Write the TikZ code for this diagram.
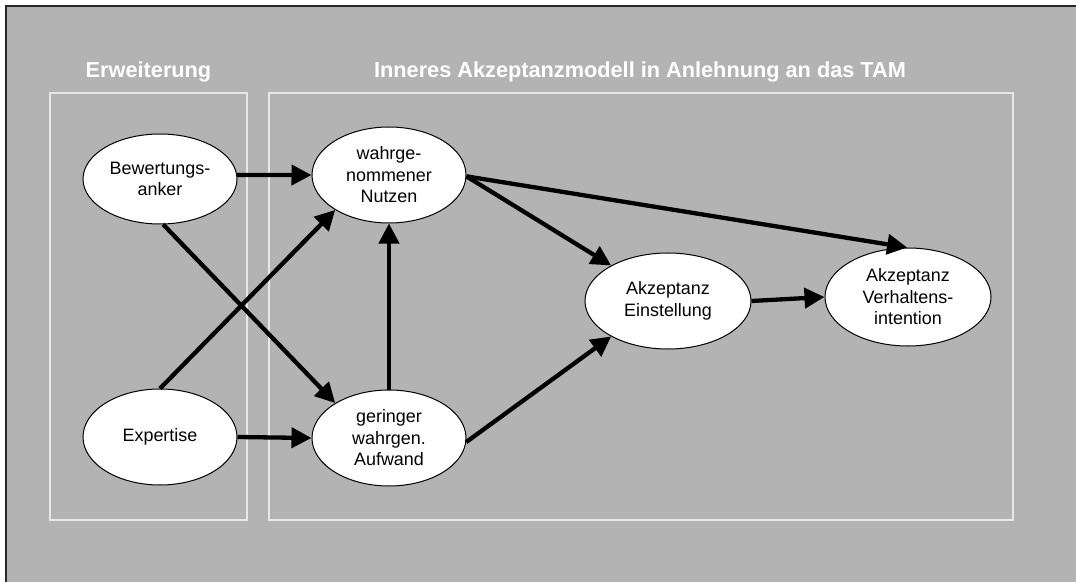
\documentclass[tikz,border=0pt]{standalone}
\usepackage{fontspec}
\setmainfont{Liberation Sans}
\usetikzlibrary{shapes.geometric,arrows.meta}
\definecolor{panel}{RGB}{179,179,179}
\definecolor{frameline}{RGB}{40,40,40}
\definecolor{boxline}{RGB}{232,232,232}

\begin{document}
\begin{tikzpicture}[x=1bp,y=-1bp,
  construct/.style={ellipse,draw=black,line width=1bp,fill=white,
    minimum width=154bp,minimum height=96bp,inner sep=0pt,align=center,
    font=\fontsize{18}{21.5}\selectfont},
  link/.style={line width=4.3bp,-{Triangle[length=20bp,width=20bp]}},
  groupbox/.style={draw=boxline,line width=1.5bp},
  grouptitle/.style={text=white,anchor=base,
    font=\fontsize{21.8}{26}\selectfont\bfseries}]
\useasboundingbox (0,0) rectangle (1076,582);

% background panel with inset frame
\fill[white] (0,0) rectangle (1076,582);
\fill[panel] (6,6) rectangle (1076,582);
\draw[frameline,line width=2bp] (6,582) -- (6,6) -- (1076,6);

% group frames and titles
\draw[groupbox] (50,93) rectangle (247,520);
\draw[groupbox] (269,93) rectangle (1013,520);
\node[grouptitle] (tExt) at (148.5,78) {Erweiterung};
\node[grouptitle] (tTam) at (640,78) {Inneres Akzeptanzmodell in Anlehnung an das TAM};

% constructs
\node[construct,minimum height=90bp] (bew) at (160,179) {Bewertungs-\\anker};
\node[construct] (wahr) at (389,175) {wahrge-\\nommener\\Nutzen};
\node[construct] (exp) at (160,437) {Expertise};
\node[construct] (ger) at (389,438) {geringer\\wahrgen.\\Aufwand};
\node[construct,minimum width=166bp] (einst) at (668,301) {Akzeptanz\\Einstellung};
\node[construct,minimum width=166bp,minimum height=98bp] (verh) at (908,297) {Akzeptanz\\Verhaltens-\\intention};

% causal paths
\draw[link] (bew.3) -- (wahr.180);
\draw[link] (bew.274) -- (ger.147);
\draw[link] (exp.90) -- (wahr.213);
\draw[link] (exp.0) -- (ger.180);
\draw[link] (ger.90) -- (wahr.270);
\draw[link] (wahr.-1) -- (einst.148);
\draw[link] (wahr.-1) -- (verh.91);
\draw[link] (ger.-3) -- (einst.212);
\draw[link] (einst.0) -- (verh.180);
\end{tikzpicture}
\end{document}
